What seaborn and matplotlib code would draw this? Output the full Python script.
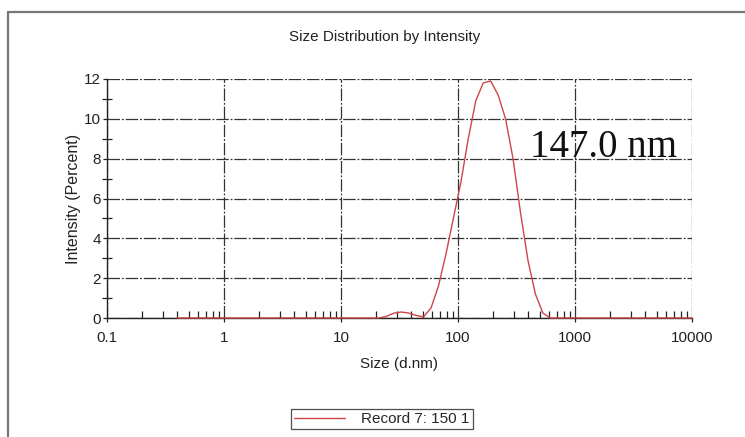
import numpy as np
import pandas as pd
import matplotlib
matplotlib.use("Agg")
import matplotlib.pyplot as plt
from matplotlib.lines import Line2D
from matplotlib.ticker import FixedLocator, NullFormatter
import seaborn as sns

# Size classes (d.nm) and intensity distribution (%)
sizes = [0.4, 0.4632, 0.5365, 0.6213, 0.7195, 0.8332, 0.9649, 1.117, 1.294, 1.499,
         1.736, 2.010, 2.328, 2.696, 3.122, 3.615, 4.187, 4.849, 5.615, 6.503,
         7.531, 8.721, 10.10, 11.70, 13.54, 15.69, 18.17, 21.04, 24.36, 28.21,
         32.67, 37.84, 43.82, 50.75, 58.77, 68.06, 78.82, 91.28, 105.7, 122.4,
         141.8, 164.2, 190.1, 220.2, 255.0, 295.3, 342.0, 396.1, 458.7, 531.2,
         615.1, 712.4, 825.0, 955.4, 1106, 1281, 1484, 1718, 1990, 2305,
         2669, 3091, 3580, 4145, 4801, 5560, 6439, 7456, 8635, 10000]
intensity = [0, 0, 0, 0, 0, 0, 0, 0, 0, 0,
             0, 0, 0, 0, 0, 0, 0, 0, 0, 0,
             0, 0, 0, 0, 0, 0, 0, 0, 0.08, 0.24,
             0.30, 0.25, 0.13, 0.06, 0.5, 1.6, 3.2, 5.0, 6.8, 9.0,
             10.9, 11.8, 11.9, 11.2, 10.0, 8.0, 5.3, 2.9, 1.2, 0.25,
             0, 0, 0, 0, 0, 0, 0, 0, 0, 0,
             0, 0, 0, 0, 0, 0, 0, 0, 0, 0]

x_ticks = [0.1, 1, 10, 100, 1000, 10000]
x_tick_labels = ["0.1", "1", "10", "100", "1000", "10000"]
y_ticks = [0, 2, 4, 6, 8, 10, 12]
record_name = "Record 7: 150 1"
peak_label = "147.0 nm"

df = pd.DataFrame({"Size (d.nm)": sizes, "Intensity (Percent)": intensity})

sns.set_style("white")
plt.rcParams["font.family"] = ["Liberation Sans", "DejaVu Sans"]

W, H = 745, 437
fig = plt.figure(figsize=(W / 100, H / 100), dpi=100)
ax = fig.add_axes([107 / W, 1 - 318 / H, 585 / W, 239 / H])

line_color = "#cf4449"
sns.lineplot(data=df, x="Size (d.nm)", y="Intensity (Percent)", ax=ax,
             color=line_color, linewidth=1.0, zorder=5, clip_on=False)

ax.set_xscale("log")
ax.set_xlim(0.1, 10000)
ax.set_ylim(0, 12)

ax.set_xticks(x_ticks)
ax.set_xticklabels(x_tick_labels)
minor_x = [m * d for d in [0.1, 1, 10, 100, 1000] for m in range(2, 10)]
ax.xaxis.set_minor_locator(FixedLocator(minor_x))
ax.xaxis.set_minor_formatter(NullFormatter())
ax.set_yticks(y_ticks)
ax.set_yticklabels([str(v) for v in y_ticks])
ax.yaxis.set_minor_locator(FixedLocator([1, 3, 5, 7, 9, 11]))

ax.tick_params(axis="both", which="both", bottom=True, left=True,
               top=False, right=False)
ax.tick_params(axis="y", which="major", direction="out", length=3,
               width=0.9, color="#222222", labelsize=11, labelcolor="#222222", pad=1.5)
ax.tick_params(axis="x", which="major", direction="out", length=3,
               width=0.9, color="#222222", labelsize=11, labelcolor="#222222", pad=6)
ax.tick_params(axis="x", which="minor", direction="in", length=5,
               width=0.9, color="#222222")
ax.tick_params(axis="y", which="minor", direction="inout", length=7,
               width=0.9, color="#222222")

ax.grid(True, which="major", color="#333333", linewidth=0.9,
        linestyle=(0, (10, 1.5, 1.5, 1.5)))

for side in ["top", "right"]:
    ax.spines[side].set_visible(False)
for side in ["left", "bottom"]:
    ax.spines[side].set_color("#222222")
    ax.spines[side].set_linewidth(1.0)

ax.set_xlabel("Size (d.nm)", fontsize=11, color="#222222", labelpad=9)
ax.set_ylabel("Intensity (Percent)", fontsize=11.5, color="#222222", labelpad=2)

fig.text(385 / W, 1 - 37 / H, "Size Distribution by Intensity",
         ha="center", va="center", fontsize=11, color="#222222")

ax.text((530 - 107) / 585, (318 - 157) / 239, peak_label, transform=ax.transAxes,
        ha="left", va="baseline", fontsize=28,
        family=["Liberation Serif", "DejaVu Serif"], color="#111111")

handle = Line2D([], [], color=line_color, linewidth=1.0)
leg = fig.legend([handle], [record_name], loc="center",
                 bbox_to_anchor=(382 / W, 1 - 419 / H), fontsize=11,
                 frameon=True, fancybox=False, handlelength=3.3,
                 borderpad=0.2, handletextpad=1.1, borderaxespad=0)
leg.get_frame().set_edgecolor("#222222")
leg.get_frame().set_linewidth(0.9)

# Outer panel border (top and left edges)
fig.add_artist(Line2D([8 / W, 1.0], [1 - 12 / H, 1 - 12 / H],
                      transform=fig.transFigure, color="#777777", linewidth=1.6))
fig.add_artist(Line2D([8 / W, 8 / W], [0.0, 1 - 12 / H],
                      transform=fig.transFigure, color="#777777", linewidth=1.6))

fig.savefig("out.png", dpi=100, facecolor="white")
